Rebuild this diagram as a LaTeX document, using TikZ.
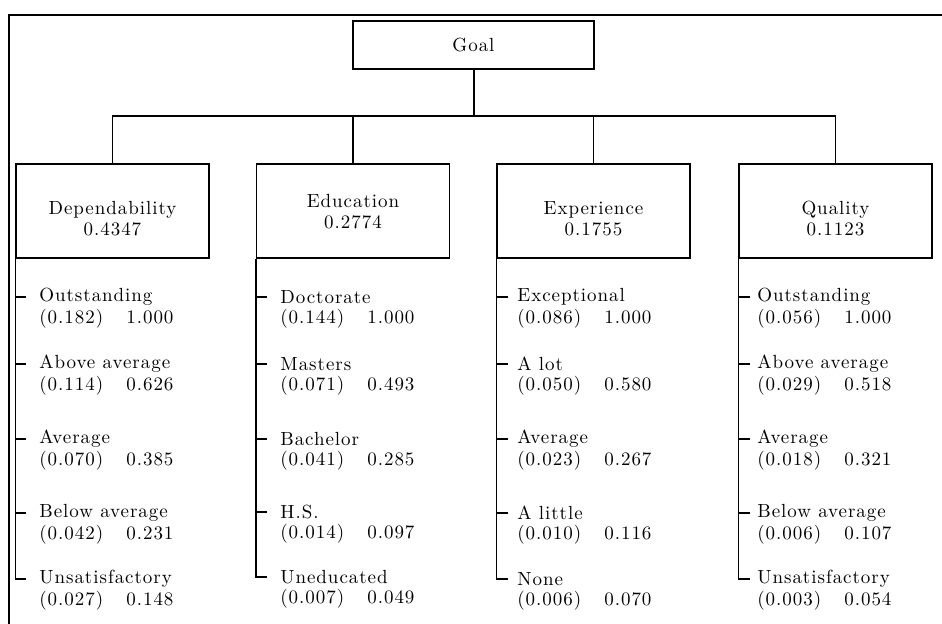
\documentclass[tikz,border=0pt]{standalone}
\usepackage{fontspec}
\setmainfont{lmroman10-regular.otf}[LetterSpace=5]
\usetikzlibrary{calc}
\begin{document}
\begin{tikzpicture}[x=0.5pt,y=-0.5pt,
  every node/.style={font=\fontsize{9.5}{10.5}\selectfont},
  box/.style={draw, line width=0.55pt, rectangle, inner sep=0},
  catbox/.style={box, minimum width=96.5pt, minimum height=47pt},
  cattext/.style={align=center, inner sep=0},
  leafname/.style={anchor=west, inner ysep=0, inner xsep=#1},
  leafval/.style={anchor=west, inner sep=0},
  conn/.style={line width=0.55pt},
  frameline/.style={line width=1.1pt}]
\useasboundingbox (0,0) rectangle (942,624);
\draw[frameline] (9,624) -- (9,15) -- (942,15);
% goal
\node[box, minimum width=120.5pt, minimum height=24pt] (goal) at (473.5,45) {Goal};
\coordinate (bus) at (473.5,116);
\draw[line width=1pt] (goal.south) -- (bus);
% categories
\node[catbox] (dep) at (112.5,211) {};
\node[cattext] (deplab) at (112.5,219) {Dependability\\0.4347};
\node[catbox] (edu) at (353,211) {};
\node[cattext] (edulab) at (353,212) {Education\\0.2774};
\node[catbox] (exp) at (593.5,211) {};
\node[cattext] (explab) at (593.5,219) {Experience\\0.1755};
\node[catbox] (qua) at (835.5,211) {};
\node[cattext] (qualab) at (835.5,219) {Quality\\0.1123};
\foreach \c in {dep,edu,exp,qua} \draw[conn] (\c.north) |- (bus);
% leaves: dependability
\foreach \n/\y/\lab/\p/\v in {1/297/Outstanding/0.182/1.000, 2/364/Above average/0.114/0.626, 3/439/Average/0.070/0.385, 4/513/Below average/0.042/0.231, 5/579/Unsatisfactory/0.027/0.148}{
  \node[leafname=6.5pt] (d\n) at (26,\y) {\lab};
  \node[leafval] (d\n v) at (39,\y+22) {\makebox[43.5pt][l]{(\p)}\v};
}
% leaves: education
\foreach \n/\y/\lab/\p/\v in {1/297/Doctorate/0.144/1.000, 2/364/Masters/0.071/0.493, 3/439/Bachelor/0.041/0.285, 4/512/H.S./0.014/0.097, 5/577/Uneducated/0.007/0.049}{
  \node[leafname=6.5pt] (e\n) at (267,\y) {\lab};
  \node[leafval] (e\n v) at (280,\y+22) {\makebox[43.5pt][l]{(\p)}\v};
}
% leaves: experience
\foreach \n/\y/\lab/\p/\v in {1/297/Exceptional/0.086/1.000, 2/364/A lot/0.050/0.580, 3/439/Average/0.023/0.267, 4/513/A little/0.010/0.116, 5/579/None/0.006/0.070}{
  \node[leafname=4.5pt] (x\n) at (508,\y) {\lab};
  \node[leafval] (x\n v) at (517,\y+22) {\makebox[43.5pt][l]{(\p)}\v};
}
% leaves: quality
\foreach \n/\y/\lab/\p/\v in {1/297/Outstanding/0.056/1.000, 2/364/Above average/0.029/0.518, 3/439/Average/0.018/0.321, 4/513/Below average/0.006/0.107, 5/579/Unsatisfactory/0.003/0.054}{
  \node[leafname=3.5pt] (q\n) at (750,\y) {\lab};
  \node[leafval] (q\n v) at (757,\y+22) {\makebox[43.5pt][l]{(\p)}\v};
}
% ticks
\foreach \c/\k in {dep/d,edu/e,exp/x,qua/q}{
  \foreach \n in {1,2,3,4} \draw[conn] (\k\n.west -| \c.south west) -- (\k\n.west);
  \draw[conn] (\c.south west) |- (\k5.west);
}
\end{tikzpicture}
\end{document}
